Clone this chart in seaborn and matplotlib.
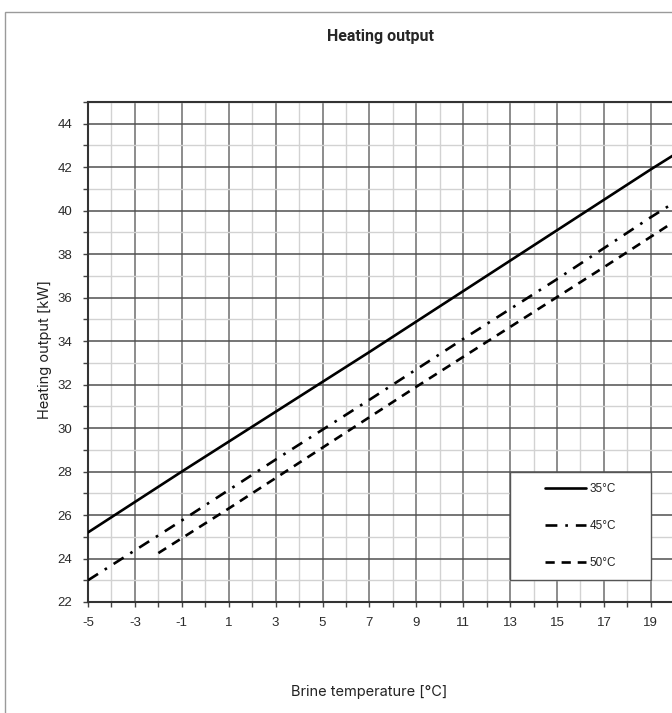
import numpy as np
import pandas as pd
import matplotlib
matplotlib.use("Agg")
import matplotlib.pyplot as plt
from matplotlib.patches import Rectangle
from matplotlib.ticker import MultipleLocator, FixedLocator
import seaborn as sns

sns.set_style("ticks")
plt.rcParams['font.family'] = ['Liberation Sans', 'DejaVu Sans']
plt.rcParams['axes.unicode_minus'] = False

# values
temp_35 = [-5, -1, 3, 7, 11, 15, 19, 21]
out_35 = [25.2, 28.0, 30.75, 33.5, 36.3, 39.1, 41.9, 43.25]
temp_45 = [-5, -1, 3, 7, 11, 15, 19, 21]
out_45 = [23.0, 25.75, 28.55, 31.3, 34.1, 36.85, 39.7, 41.05]
temp_50 = [-2, 1, 5, 9, 13, 17, 21]
out_50 = [24.25, 26.3, 29.1, 31.9, 34.65, 37.4, 40.2]
series_names = ['35°C', '45°C', '50°C']
x_ticks = [-5, -3, -1, 1, 3, 5, 7, 9, 11, 13, 15, 17, 19]
y_ticks = [22, 24, 26, 28, 30, 32, 34, 36, 38, 40, 42, 44]

df = pd.concat([
    pd.DataFrame({'temp': temp_35, 'output': out_35, 'flow': '35°C'}),
    pd.DataFrame({'temp': temp_45, 'output': out_45, 'flow': '45°C'}),
    pd.DataFrame({'temp': temp_50, 'output': out_50, 'flow': '50°C'}),
], ignore_index=True)

fig = plt.figure(figsize=(6.72, 7.13), dpi=100)
ax = fig.add_axes([88/672, 111/713, 609.7/672, 500/713])

dash_map = {'35°C': '', '45°C': (4.5, 3, 1, 3), '50°C': (3.5, 2.6)}
sns.lineplot(data=df, x='temp', y='output', style='flow', dashes=dash_map,
             color='black', linewidth=1.9, sort=True, legend=False, ax=ax, zorder=5)

ax.set_xlim(-5, 21)
ax.set_ylim(22, 45)
ax.xaxis.set_major_locator(FixedLocator(x_ticks))
ax.xaxis.set_minor_locator(MultipleLocator(1))
ax.yaxis.set_major_locator(FixedLocator(y_ticks))
ax.yaxis.set_minor_locator(MultipleLocator(1))

ax.grid(which='minor', color='#d2d2d2', linewidth=1.0, zorder=0)
ax.grid(which='major', axis='x', color='#6e6e6e', linewidth=1.1)
ax.grid(which='major', axis='y', color='#505050', linewidth=1.1)
# keep the grid line at 21 too
ax.axvline(21, color='#6e6e6e', linewidth=1.1, zorder=0.5)
ax.set_axisbelow(True)

ax.tick_params(which='both', direction='out', length=3.5, width=1, color='#444444')
ax.tick_params(which='major', labelsize=9.5, labelcolor='#2a2a2a')
ax.tick_params(axis='y', pad=8)
ax.tick_params(axis='x', pad=7)
for s in ax.spines.values():
    s.set_color('#333333')
    s.set_linewidth(1.5)

ax.set_xlabel('')
ax.set_ylabel('')

# legend box
box = Rectangle((13, 23), 6, 5, facecolor='white', edgecolor='#555555',
                linewidth=1.0, zorder=6)
ax.add_patch(box)
handles = ax.lines[:3]
leg = ax.legend(handles, series_names, loc='center', bbox_to_anchor=(16, 25.5),
                bbox_transform=ax.transData, frameon=False, fontsize=8.5,
                handlelength=3.5, handletextpad=0.25, labelspacing=2.1)
leg.set_zorder(7)
for t in leg.get_texts():
    t.set_color('#222222')

fig.text(380/672, 1 - 37/713, 'Heating output', ha='center', va='center',
         fontsize=11.5, fontweight='bold', family=['Roboto', 'DejaVu Sans'])
fig.text(369/672, 1 - 692/713, 'Brine temperature [°C]', ha='center', va='center',
         fontsize=10.5, family=['Inter', 'DejaVu Sans'], color='#222222')
fig.text(45/672, 1 - 350/713, 'Heating output [kW]', ha='center', va='center',
         rotation=90, fontsize=10.5, family=['Inter', 'DejaVu Sans'], color='#222222')

frame = Rectangle((5/672, -0.2), 1.5, 1 - 12/713 + 0.2, transform=fig.transFigure,
                  fill=False, edgecolor='#9a9a9a', linewidth=1.0)
fig.patches.append(frame)

fig.savefig('out.png', dpi=100)
